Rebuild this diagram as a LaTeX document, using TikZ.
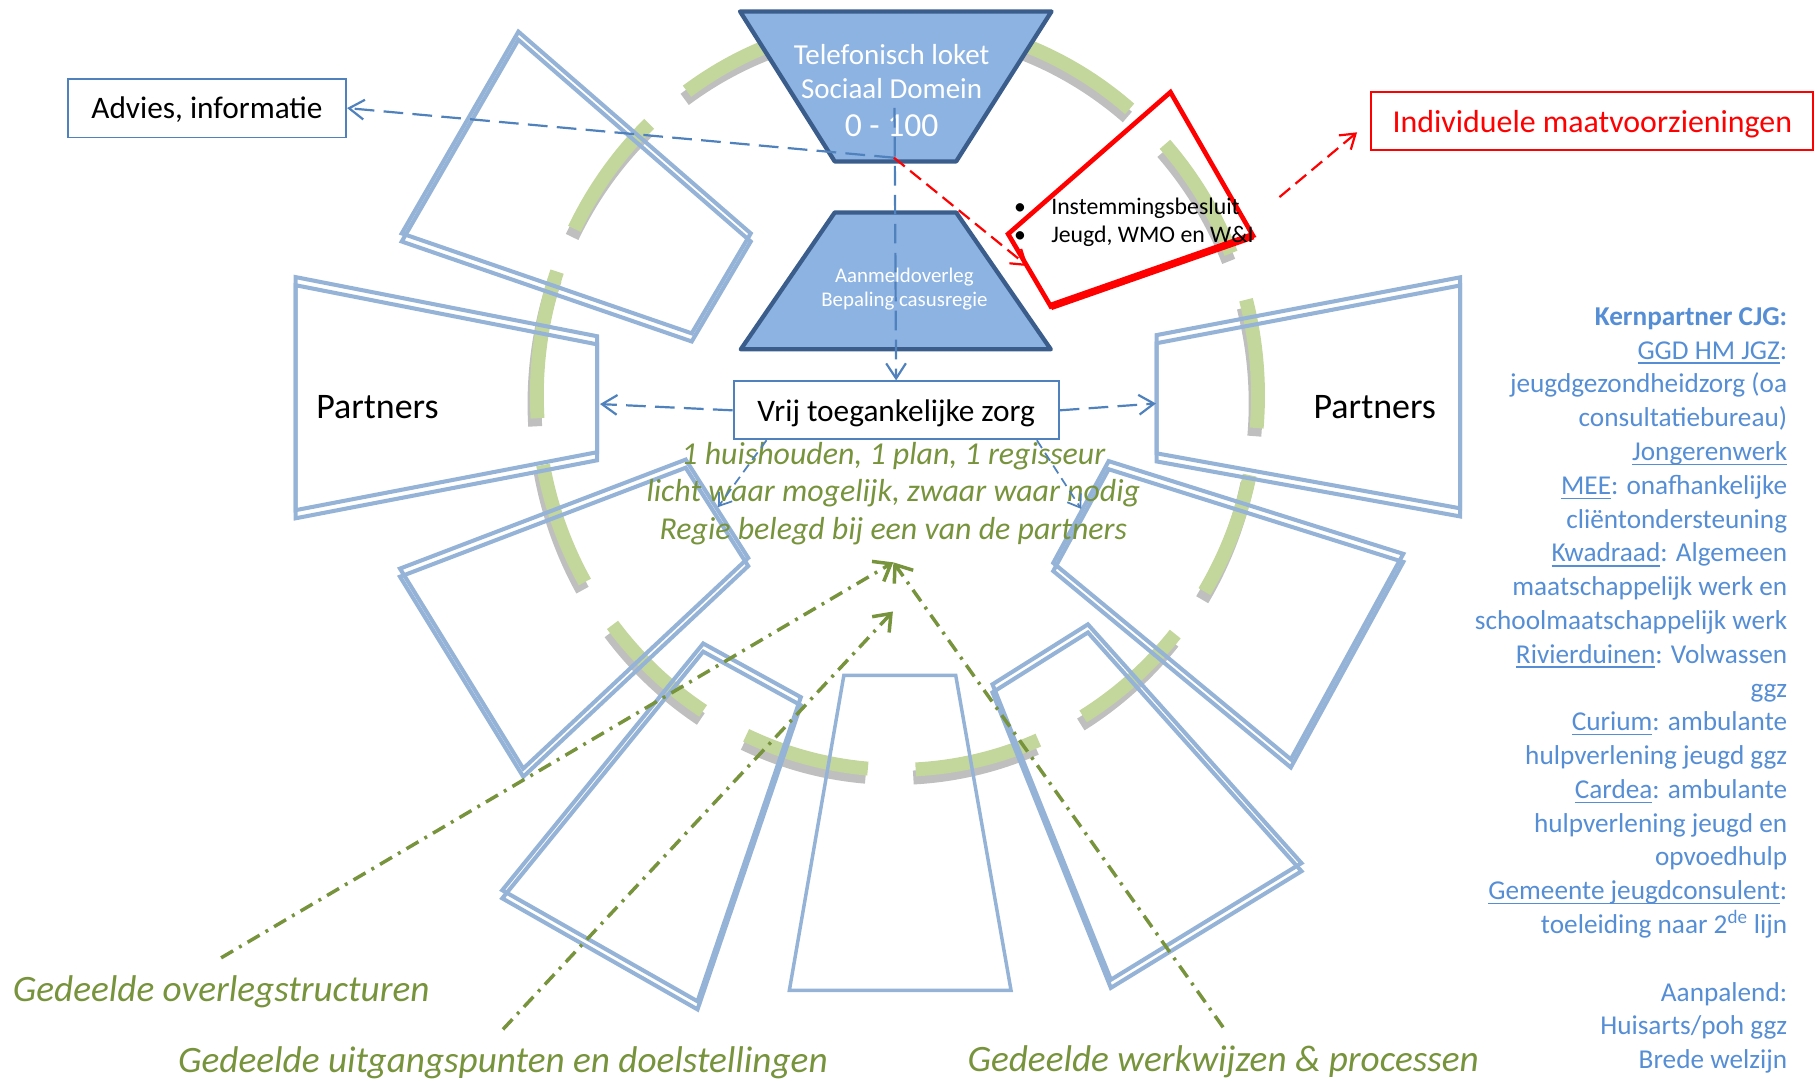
\documentclass[tikz,border=0pt]{standalone}
\usepackage{fontspec}
\setmainfont{Carlito}
\usepackage{tikz}
\usetikzlibrary{arrows.meta,%
                positioning}

\definecolor{frameblue}{HTML}{95B3D7}
\definecolor{teldark}{HTML}{3A5D8C}
\definecolor{telfill}{HTML}{8DB3E2}
\definecolor{linkblue}{HTML}{4F81BD}
\definecolor{olivetxt}{HTML}{77933C}
\definecolor{ringgreen}{HTML}{C3D69B}
\definecolor{ringgray}{HTML}{BFBFBF}
\definecolor{kernblue}{HTML}{558ED5}

% partner frame, drawn twice
\newcommand{\partnerbox}[4]{%
  \draw[partnerframe] #1 -- #2 -- #3 -- #4 -- cycle;
  \draw[partnerframe, yshift=-7pt] #1 -- #2 -- #3 -- #4 -- cycle;}
% piece of the green ring with its shadow
\newcommand{\ringarc}[2]{%
  \draw[ringshadow, xshift=-2pt, yshift=-7pt] (774,341) ++(#1:311 and 323)
    arc[start angle=#1, end angle=#2, x radius=311, y radius=323];
  \draw[ringband] (774,341) ++(#1:311 and 323)
    arc[start angle=#1, end angle=#2, x radius=311, y radius=323];}
\newcommand{\lnk}[1]{\setbox0=\hbox{#1}\rlap{\rule[-4pt]{\wd0}{1.2pt}}\box0}

\begin{document}
\begin{tikzpicture}[x=1pt,y=-1pt,
    partnerframe/.style={draw=frameblue, line width=3.5pt},
    ringband/.style={draw=ringgreen, line width=12pt},
    ringshadow/.style={draw=ringgray, line width=12pt},
    redframe/.style={draw=red, line width=4pt},
    telshape/.style={draw=teldark, fill=telfill, line width=3.7pt, line join=round},
    teltext/.style={text=white, inner sep=0pt, anchor=base},
    plainbox/.style={draw=linkblue, line width=1.7pt, fill=white, inner sep=0pt,
      minimum height=50pt, text depth=0pt, font=\fontsize{27}{32}\selectfont},
    partnertext/.style={inner sep=0pt, anchor=base west, font=\fontsize{31}{37}\selectfont},
    bultext/.style={inner sep=0pt, anchor=base west, font=\fontsize{20.5}{25}\selectfont},
    motto/.style={text=olivetxt, inner sep=0pt, anchor=base,
      font=\itshape\fontsize{27.5}{33}\selectfont},
    shared/.style={text=olivetxt, inner sep=0pt, anchor=base west,
      font=\itshape\fontsize{32.1}{38}\selectfont},
    kerntext/.style={text=kernblue, inner sep=0pt, anchor=north east, align=right,
      font=\fontsize{23.5}{29.14}\selectfont},
    linkarrow/.style={draw=linkblue, line width=1.9pt, dash pattern=on 17pt off 8pt,
      -{Straight Barb[length=13pt,width=17pt]}},
    shortlink/.style={draw=linkblue, line width=1.5pt, dash pattern=on 8pt off 5pt,
      -{Straight Barb[length=10pt,width=14pt]}},
    redlink/.style={draw=red, line width=1.9pt, dash pattern=on 12pt off 6pt,
      -{Straight Barb[length=12pt,width=16pt]}},
    sharedlink/.style={draw=olivetxt, line width=3pt,
      dash pattern=on 12pt off 6pt on 2.5pt off 6pt,
      -{Straight Barb[length=13pt,width=20pt]}}]

\useasboundingbox (0,0) rectangle (1568,932);

% green ring
\ringarc{-125.7}{-106}
\ringarc{-74}{-49.9}
\ringarc{-133.5}{-153.6}
\ringarc{-160.7}{-183.5}
\ringarc{169.3}{150.1}
\ringarc{142.2}{122.6}
\ringarc{114.8}{94.7}
\ringarc{87.1}{67}
\ringarc{59}{39.6}
\ringarc{31.6}{12.3}
\ringarc{5}{-14.8}
\ringarc{-22.3}{-42.1}

% partners round the ring
\partnerbox{(447.1,27.3)}{(647.5,201.3)}{(596.6,287.5)}{(346.5,201.3)}
\partnerbox{(255,239)}{(515,290)}{(515,390)}{(255,440)}
\partnerbox{(591.4,396.4)}{(645.3,481.2)}{(451.3,662.9)}{(345,490.4)}
\partnerbox{(606.5,555)}{(690.7,601.3)}{(601.6,863.6)}{(433.2,767.8)}
\draw[partnerframe, line width=3pt] (727.8,582.5) -- (824.3,582.5) -- (872,854.2) -- (680.8,854.2) -- cycle;
\partnerbox{(938.3,538.5)}{(1122.5,744.4)}{(958.1,845)}{(856,590.2)}
\partnerbox{(956.2,397.7)}{(1210.3,477.7)}{(1113.3,654.9)}{(908.4,485.5)}
\partnerbox{(997.6,289)}{(1259.3,239.2)}{(1259.3,438.4)}{(997.6,391)}

% besluit
\draw[redframe] (1009.5,79.5) -- (1080.7,203.3) -- (906.3,264.3) -- (869.5,201.8) -- cycle;
\draw[redframe, line width=6.5pt] (906.3,264.3) -- (1080.7,203.3);

% loket and aanmeldoverleg
\draw[telshape] (638.3,9.9) -- (906.9,9.9) -- (824.7,139.2) -- (719.9,139.2) -- cycle;
\draw[telshape] (719.9,183.3) -- (824.7,183.3) -- (906.3,301.3) -- (638.9,301.3) -- cycle;

\node[teltext, font=\fontsize{25}{30}\selectfont] (tel) at (769,55.4) {Telefonisch loket};
\node[teltext, font=\fontsize{25}{30}\selectfont] (domein) at (769,84.7) {Sociaal Domein};
\node[teltext, font=\fontsize{29}{35}\selectfont] (leeftijd) at (769,118) {0 - 100};
\node[teltext, font=\fontsize{18}{22}\selectfont] (aanmeld) at (780,243.4) {Aanmeldoverleg};
\node[teltext, font=\fontsize{18}{22}\selectfont] (casus) at (780,264.3) {Bepaling casusregie};

% boxes
\node[plainbox, minimum width=240pt, minimum height=50.8pt] (advies) at (178.5,93.2) {Advies, informatie};
\node[plainbox, minimum width=280.4pt, minimum height=49.9pt] (vrij) at (772.9,353.9) {Vrij toegankelijke zorg};
\node[plainbox, draw=red, text=red, minimum width=381.2pt, minimum height=49.9pt,
  font=\fontsize{27.5}{33}\selectfont] (indiv) at (1373.4,104.5) {Individuele maatvoorzieningen};

\node[partnertext] (partl) at (272.6,360.8) {Partners};
\node[partnertext] (partr) at (1132.8,360.8) {Partners};

\node[bultext] (dot1) at (874.5,184.8) {•};
\node[bultext] (besluit) at (906.5,184.8) {Instemmingsbesluit};
\node[bultext] (dot2) at (874.5,209.5) {•};
\node[bultext] (domeinen) at (906.5,209.5) {Jeugd, WMO en W\&I};

\node[motto] (motto1) at (770.5,400.5) {1 huishouden, 1 plan, 1 regisseur};
\node[motto] (motto2) at (770.5,432.8) {licht waar mogelijk, zwaar waar nodig};
\node[motto] (motto3) at (770.5,465.1) {Regie belegd bij een van de partners};

\node[shared] (overleg) at (10.9,863.6) {Gedeelde overlegstructuren};
\node[shared] (uitgang) at (153.5,925.3) {Gedeelde uitgangspunten en doelstellingen};
\node[shared] (werkwijze) at (834.3,924.5) {Gedeelde werkwijzen \& processen};

\node[kerntext] (kern) at (1541.6,265) {\textbf{Kernpartner CJG:}\\
  \lnk{GGD HM JGZ}:\\
  jeugdgezondheidzorg (oa\\
  consultatiebureau)\\
  \lnk{Jongerenwerk}\\
  \lnk{MEE}: onafhankelijke\\
  cliëntondersteuning\\
  \lnk{Kwadraad}: Algemeen\\
  maatschappelijk werk en\\
  schoolmaatschappelijk werk\\
  \lnk{Rivierduinen}: Volwassen\\
  ggz\\
  \lnk{Curium}: ambulante\\
  hulpverlening jeugd ggz\\
  \lnk{Cardea}: ambulante\\
  hulpverlening jeugd en\\
  opvoedhulp\\
  \lnk{Gemeente jeugdconsulent}:\\
  toeleiding naar 2\textsuperscript{de} lijn\\[29.14pt]
  Aanpalend:\\
  Huisarts/poh ggz\\
  Brede welzijn};

% connectors
\coordinate (hub) at (771,136);
\coordinate (telc) at (771.5,93);
\coordinate (lpart) at (517.5,348.5);
\coordinate (rpart) at (997,348);
\coordinate (llin) at (619.2,437.4);
\coordinate (lrin) at (932.5,438.9);
\coordinate (redin) at (886.3,229.5);
\coordinate (redout) at (1103.5,170);
\coordinate (tipup) at (770.5,485);
\coordinate (tiplow) at (770.1,527.4);

\draw[linkarrow] (hub) -- (advies.east);
\draw[linkarrow] (telc) -- (vrij.north);
\draw[linkarrow] (vrij.west) -- (lpart);
\draw[linkarrow] (vrij.east) -- (rpart);
\draw[shortlink] (vrij.-167) -- (llin);
\draw[shortlink] (vrij.-12) -- (lrin);
\draw[redlink] (hub) -- (redin);
\draw[redlink, shorten >=15pt] (redout) -- (indiv.west);
\draw[sharedlink] ([yshift=15pt]overleg.north) -- (tipup);
\draw[sharedlink] ([yshift=15pt]uitgang.north) -- (tiplow);
\draw[sharedlink] ([yshift=16pt]werkwijze.north) -- (tipup);
\end{tikzpicture}
\end{document}
